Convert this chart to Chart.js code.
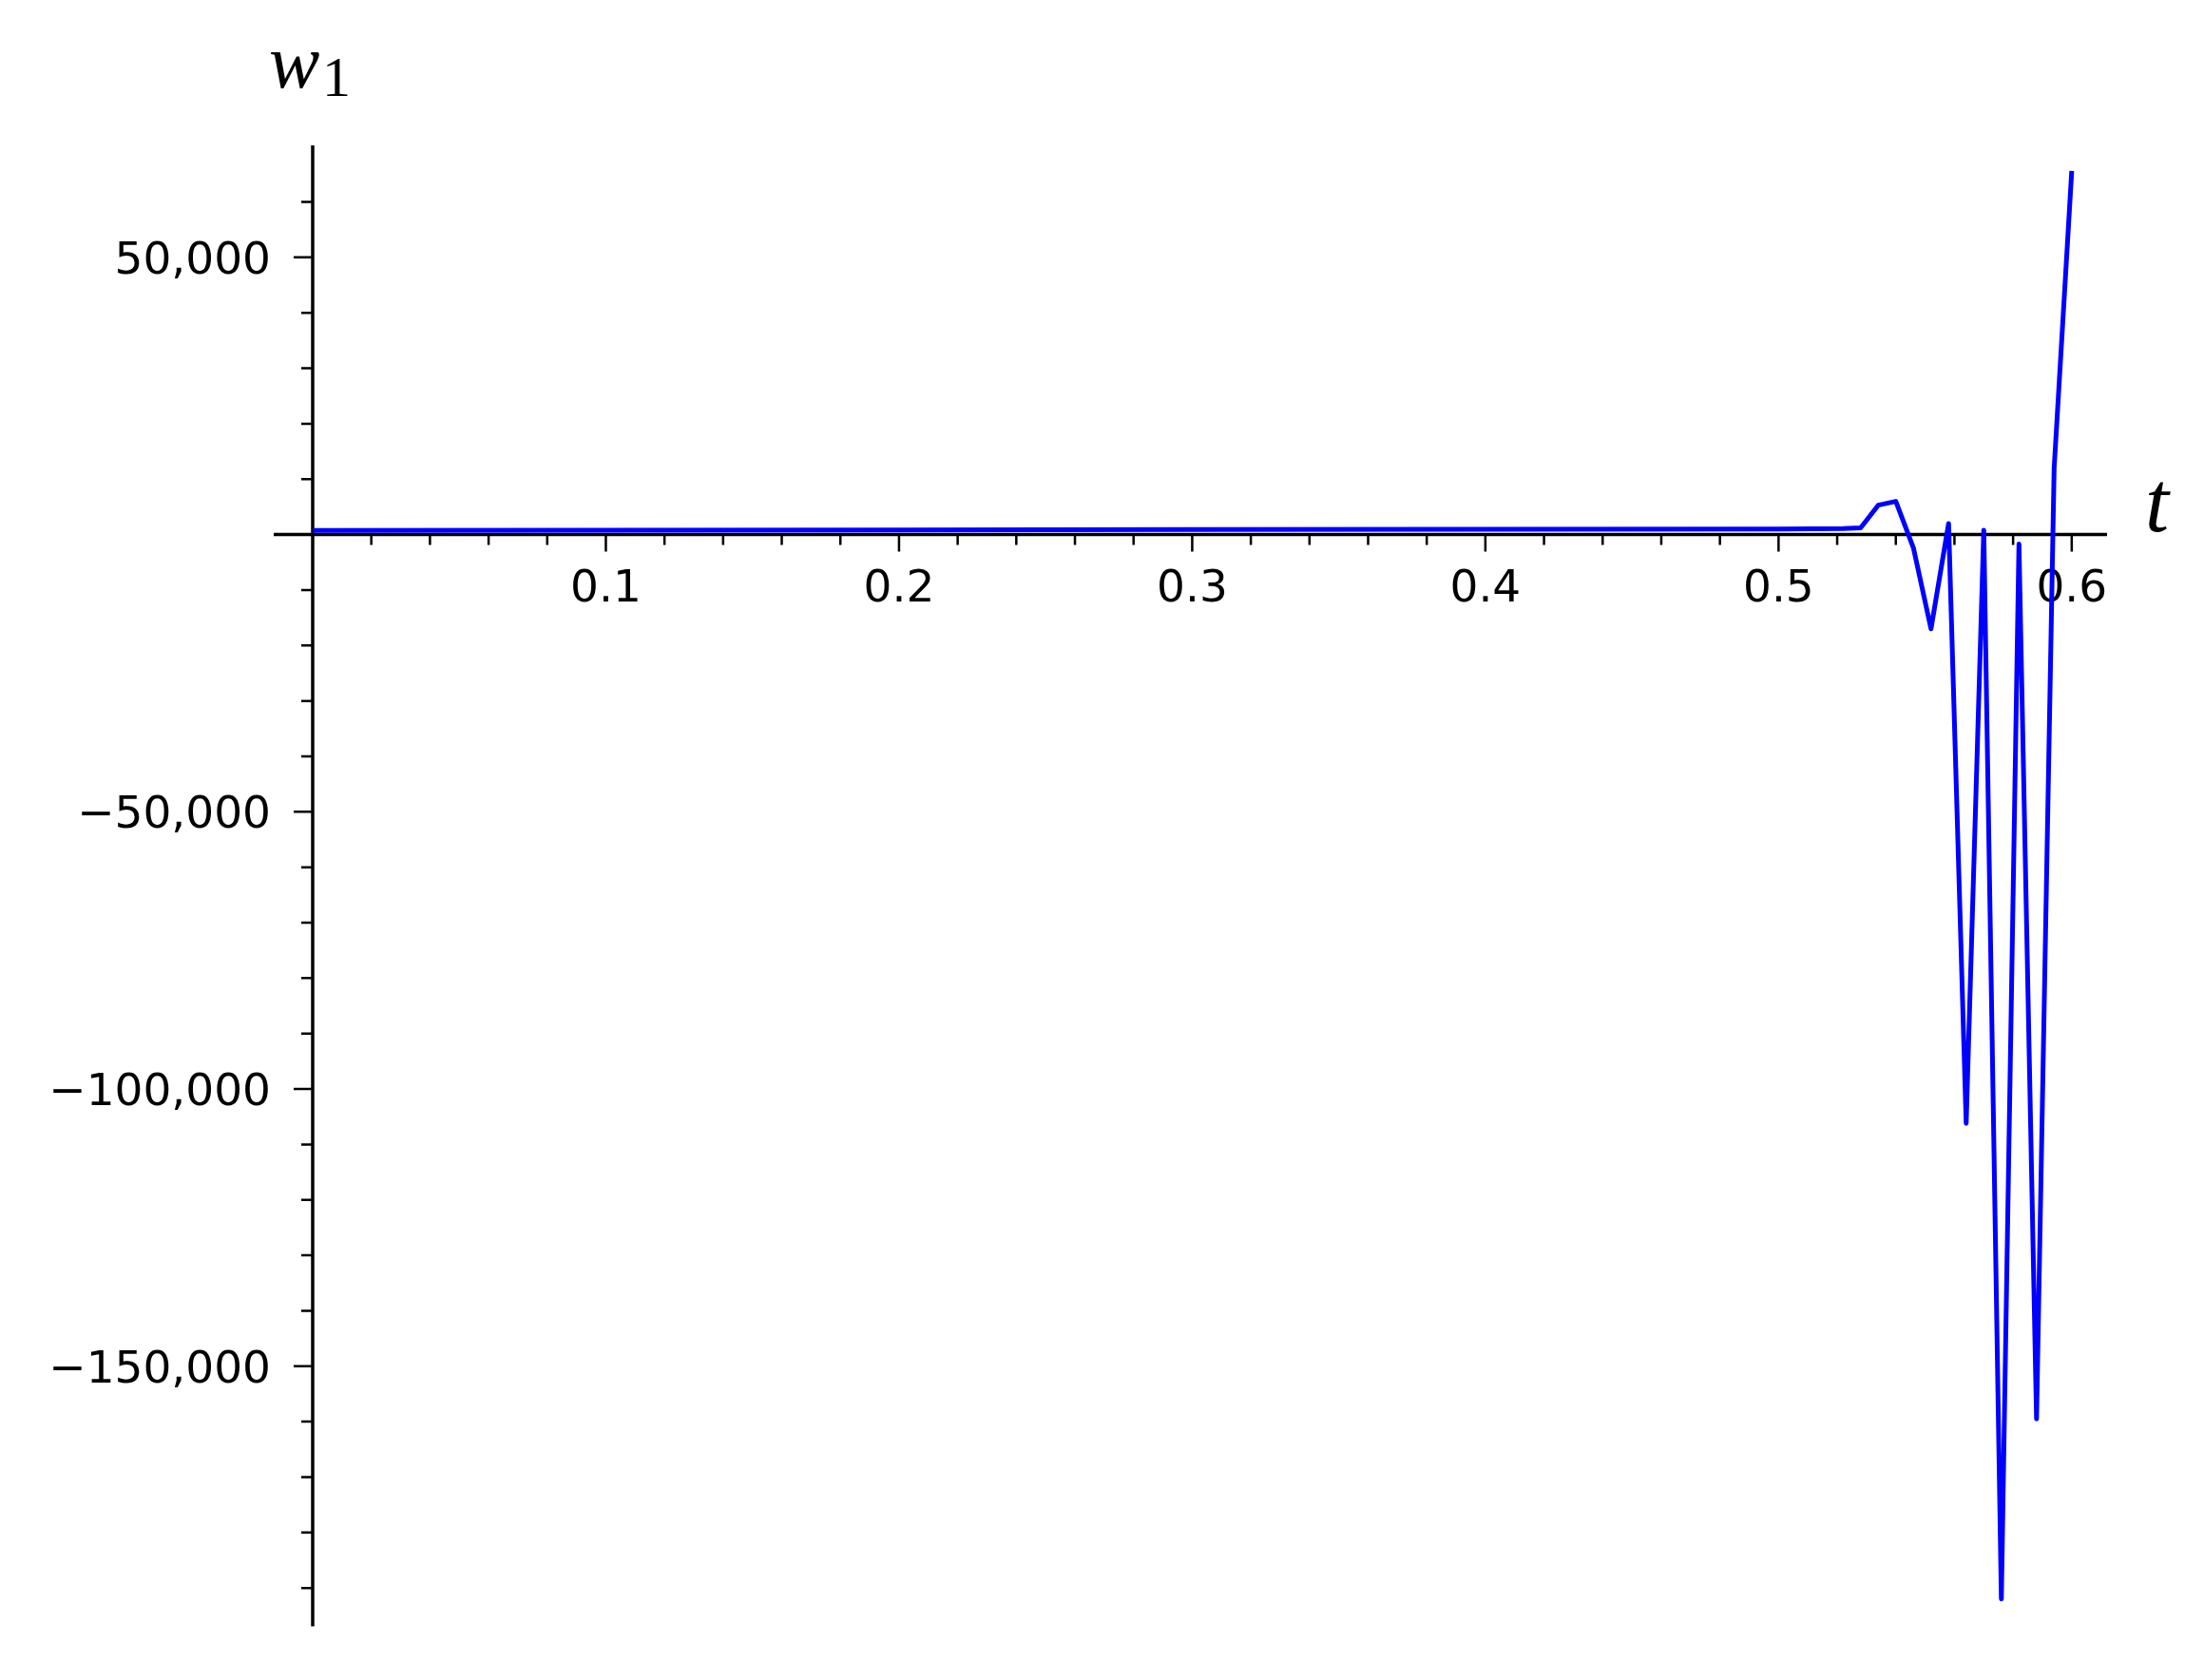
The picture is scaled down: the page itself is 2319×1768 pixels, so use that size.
<!DOCTYPE html>
<html>
<head>
<meta charset="utf-8">
<script src="https://cdn.jsdelivr.net/npm/chart.js@4.4.0/dist/chart.umd.min.js"></script>
<style>
  body { margin: 0; background: #fff; overflow: hidden; }
  canvas { display: block; }
</style>
</head>
<body>
<canvas id="grafico" width="2319" height="1768"></canvas>
<script>
// valores (t, w1)
const tiempos = [0, 0.1, 0.2, 0.3, 0.4, 0.5, 0.522, 0.528, 0.534, 0.540, 0.546, 0.552,
  0.558, 0.564, 0.570, 0.576, 0.582, 0.588, 0.594, 0.600];
const w1 = [750, 800, 850, 900, 950, 1000, 1100, 1200, 5300, 6000, -2400, -17000,
  2000, -106200, 800, -192000, -1700, -159500, 12000, 65600];

const ticksX = [0.1, 0.2, 0.3, 0.4, 0.5, 0.6];
const etiquetasX = ['0.1', '0.2', '0.3', '0.4', '0.5', '0.6'];
const ticksY = [50000, -50000, -100000, -150000];
const etiquetasY = ['50,000', '\u221250,000', '\u2212100,000', '\u2212150,000'];

const menoresX = [];
for (let i = 1; i <= 30; i++) menoresX.push(i * 0.02);
const menoresY = [];
for (let v = 60000; v >= -190000; v -= 10000) if (v !== 0) menoresY.push(v);

const ejes = {
  id: 'ejes',
  beforeDatasetsDraw(chart) {
    const { ctx, chartArea, scales: { x, y } } = chart;
    const x0 = x.getPixelForValue(0);
    const y0 = y.getPixelForValue(0);
    ctx.save();
    ctx.strokeStyle = '#000';
    ctx.lineWidth = 3.5;
    ctx.beginPath();
    ctx.moveTo(chartArea.left, y0);
    ctx.lineTo(chartArea.right, y0);
    ctx.moveTo(x0, chartArea.top);
    ctx.lineTo(x0, chartArea.bottom);
    ctx.stroke();

    ctx.lineWidth = 2.5;
    ctx.beginPath();
    menoresX.forEach(v => {
      const px = x.getPixelForValue(v);
      const largo = ticksX.some(m => Math.abs(m - v) < 1e-9) ? 18 : 11;
      ctx.moveTo(px, y0);
      ctx.lineTo(px, y0 + largo);
    });
    menoresY.forEach(v => {
      const py = y.getPixelForValue(v);
      const largo = ticksY.includes(v) ? 20 : 12;
      ctx.moveTo(x0, py);
      ctx.lineTo(x0 - largo, py);
    });
    ctx.stroke();

    ctx.fillStyle = '#000';
    ctx.font = '47px "DejaVu Sans"';
    ctx.textBaseline = 'alphabetic';
    ctx.textAlign = 'center';
    ticksX.forEach((v, i) => {
      ctx.fillText(etiquetasX[i], x.getPixelForValue(v), y0 + 70);
    });
    ctx.textAlign = 'right';
    ticksY.forEach((v, i) => {
      ctx.fillText(etiquetasY[i], x0 - 44, y.getPixelForValue(v) + 17);
    });

    // nombres de los ejes
    ctx.textAlign = 'left';
    ctx.font = 'italic 90px "Liberation Serif"';
    ctx.fillText('t', chartArea.right + 40, y0 - 4);
    ctx.font = 'italic 80px "Liberation Serif"';
    ctx.fillText('w', x0 - 46, 92);
    ctx.font = '60px "Liberation Serif"';
    ctx.fillText('1', x0 + 10, 101);
    ctx.restore();
  }
};

new Chart(document.getElementById('grafico'), {
  type: 'line',
  data: {
    datasets: [{
      label: 'w1',
      data: tiempos.map((t, i) => ({ x: t, y: w1[i] })),
      borderColor: '#0000ff',
      borderWidth: 5,
      borderJoinStyle: 'round',
      pointRadius: 0,
      tension: 0,
      fill: false,
      clip: false
    }]
  },
  options: {
    responsive: false,
    devicePixelRatio: 1,
    animation: false,
    layout: { padding: { left: 288, top: 153, right: 102, bottom: 56.5 } },
    plugins: { legend: { display: false }, tooltip: { enabled: false } },
    scales: {
      x: { type: 'linear', min: -0.01329, max: 0.61205, display: false },
      y: { type: 'linear', min: -196914, max: 70200, display: false }
    }
  },
  plugins: [ejes]
});
</script>
</body>
</html>
